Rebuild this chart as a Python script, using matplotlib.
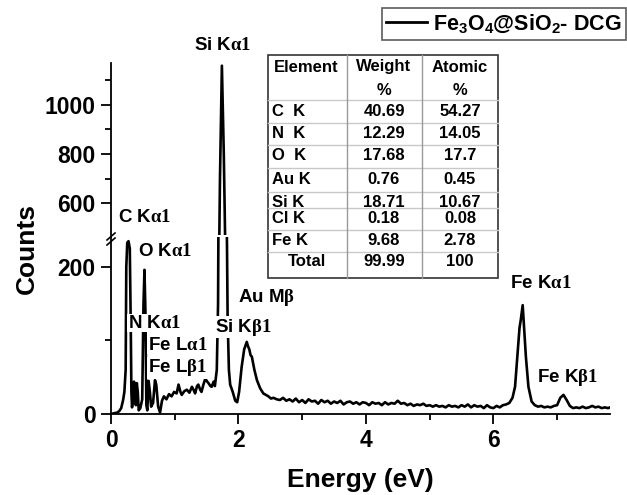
import matplotlib
matplotlib.use("Agg")
import matplotlib.pyplot as plt
from matplotlib.ticker import MultipleLocator, FixedLocator
from matplotlib.lines import Line2D

plt.rcParams['font.family'] = ['Liberation Sans', 'DejaVu Sans']
plt.rcParams['font.weight'] = 'bold'
plt.rcParams['mathtext.fontset'] = 'custom'
plt.rcParams['mathtext.rm'] = 'Liberation Serif'
plt.rcParams['mathtext.it'] = 'Liberation Serif:italic'
plt.rcParams['mathtext.bf'] = 'Liberation Sans:bold'

# ---------------- data ----------------
energy = [0.00, 0.05, 0.10, 0.13, 0.16, 0.19, 0.21, 0.23, 0.24, 0.255, 0.275, 0.295, 0.31, 0.32,
          0.33, 0.345, 0.36, 0.375, 0.39, 0.405, 0.42, 0.435, 0.46, 0.49, 0.51, 0.525, 0.54, 0.555,
          0.57, 0.59, 0.61, 0.63, 0.66, 0.69, 0.71, 0.74, 0.77, 0.80, 0.83, 0.87, 0.91, 0.95, 0.99,
          1.03, 1.06, 1.09, 1.11, 1.15, 1.19, 1.23, 1.27, 1.30, 1.32, 1.35, 1.37, 1.40, 1.42, 1.45,
          1.48, 1.51, 1.53, 1.56, 1.58, 1.61, 1.63, 1.66, 1.68, 1.69, 1.70, 1.71, 1.74, 1.77, 1.79,
          1.80, 1.82, 1.83, 1.85, 1.87, 1.91, 1.95, 1.98, 2.01, 2.05, 2.09, 2.13, 2.15, 2.17, 2.19,
          2.21, 2.25, 2.29, 2.34, 2.39, 2.43, 2.47, 2.51, 2.55, 2.60, 2.65, 2.70, 2.75, 2.80, 2.85,
          2.90, 2.95, 3.00, 3.05, 3.10, 3.15, 3.20, 3.25, 3.30, 3.35, 3.40, 3.45, 3.50, 3.55, 3.60,
          3.65, 3.70, 3.75, 3.80, 3.85, 3.90, 3.95, 4.00, 4.05, 4.10, 4.15, 4.20, 4.25, 4.30, 4.35,
          4.40, 4.45, 4.50, 4.55, 4.60, 4.65, 4.70, 4.75, 4.80, 4.85, 4.90, 4.95, 5.00, 5.05, 5.10,
          5.15, 5.20, 5.25, 5.30, 5.35, 5.40, 5.45, 5.50, 5.55, 5.60, 5.65, 5.70, 5.75, 5.80, 5.85,
          5.90, 5.95, 6.00, 6.05, 6.10, 6.15, 6.20, 6.25, 6.30, 6.34, 6.38, 6.41, 6.43, 6.46, 6.48,
          6.51, 6.55, 6.60, 6.65, 6.70, 6.75, 6.80, 6.85, 6.90, 6.95, 7.00, 7.05, 7.10, 7.15, 7.20,
          7.25, 7.30, 7.35, 7.40, 7.45, 7.50, 7.55, 7.60, 7.65, 7.70, 7.75, 7.80, 7.83]
counts = [0, 1, 2, 4, 8, 19, 30, 60, 200, 233, 235, 225, 120, 30,
          9, 20, 44, 38, 12, 42, 30, 5, 8, 20, 150, 196, 140, 12,
          5, 45, 30, 10, 15, 46, 40, 10, 2, 18, 24, 20, 27, 24, 30,
          28, 40, 30, 26, 31, 33, 29, 37, 32, 28, 38, 40, 33, 30, 40,
          48, 44, 42, 38, 37, 44, 38, 60, 150, 330, 470, 700, 1160, 800, 470,
          350, 230, 130, 60, 40, 30, 18, 16, 30, 64, 88, 98, 92, 88, 80,
          78, 60, 46, 35, 28, 26, 24, 21, 22, 20, 19, 22, 18, 20, 17,
          21, 16, 19, 15, 20, 17, 18, 14, 19, 16, 18, 14, 17, 15, 18,
          13, 16, 17, 14, 16, 13, 16, 15, 12, 16, 14, 15, 12, 16, 13,
          15, 14, 18, 14, 15, 12, 14, 11, 13, 12, 14, 11, 12, 10, 12,
          10, 11, 9, 12, 10, 11, 9, 12, 10, 13, 9, 12, 10, 11, 8,
          12, 9, 8, 11, 9, 12, 13, 15, 22, 37, 83, 117, 128, 148, 119,
          78, 37, 17, 12, 10, 11, 9, 10, 9, 11, 12, 22, 26, 19, 11,
          8, 9, 8, 10, 8, 9, 11, 9, 10, 8, 9, 8, 9]

series_label = r"Fe$_\mathbf{3}$O$_\mathbf{4}$@SiO$_\mathbf{2}$- DCG"

peak_labels = [r"C K$\mathrm{\alpha 1}$", r"O K$\mathrm{\alpha 1}$", r"N K$\mathrm{\alpha 1}$",
               r"Fe L$\mathrm{\alpha 1}$", r"Fe L$\mathrm{\beta 1}$", r"Si K$\mathrm{\alpha 1}$",
               r"Si K$\mathrm{\beta 1}$", r"Au M$\mathrm{\beta}$", r"Fe K$\mathrm{\alpha 1}$",
               r"Fe K$\mathrm{\beta 1}$"]
# label anchor positions (figure pixels: left x, centre y from top)
peak_label_pos = [(118, 218), (138, 252), (128, 323), (148, 345), (148, 368), (194, 45),
                  (215, 327), (238, 298), (510, 283), (537, 377)]

tbl_header1 = ["Element", "Weight", "Atomic"]
tbl_header2 = ["", "%", "%"]
tbl_elements = ["C  K", "N  K", "O  K", "Au K", "Si K", "Cl K", "Fe K", "Total"]
tbl_weight = ["40.69", "12.29", "17.68", "0.76", "18.71", "0.18", "9.68", "99.99"]
tbl_atomic = ["54.27", "14.05", "17.7", "0.45", "10.67", "0.08", "2.78", "100"]

# ---------------- figure ----------------
W, H = 627, 495
fig = plt.figure(figsize=(W / 100, H / 100), dpi=100)

def fx(px):
    return px / W

def fy(py):
    return 1 - py / H

x_left, x_right = 111, 610
ax_lo = fig.add_axes([fx(x_left), fy(414), fx(x_right - x_left), (414 - 237.5) / H])
ax_hi = fig.add_axes([fx(x_left), fy(235), fx(x_right - x_left), (235 - 63) / H])

lw = 1.9
for ax in (ax_lo, ax_hi):
    ax.plot(energy, counts, color='black', lw=lw)
    ax.set_xlim(0, 7.83)
    ax.spines['top'].set_visible(False)
    ax.spines['right'].set_visible(False)
    ax.spines['left'].set_linewidth(1.3)
    ax.spines['bottom'].set_linewidth(1.3)
    ax.tick_params(which='major', direction='out', length=7, width=1.3, labelsize=16.5, pad=4)
    ax.tick_params(which='minor', direction='out', length=4.5, width=1.3)

ax_lo.set_ylim(0, 240)
ax_lo.yaxis.set_major_locator(FixedLocator([0, 200]))
ax_lo.yaxis.set_minor_locator(FixedLocator([100]))
ax_lo.xaxis.set_major_locator(MultipleLocator(2))
ax_lo.xaxis.set_minor_locator(MultipleLocator(1))
ax_lo.set_xlabel("Energy (eV)", fontsize=19, fontweight='bold', labelpad=11)

ax_hi.set_ylim(470, 1171)
ax_hi.yaxis.set_major_locator(FixedLocator([600, 800, 1000]))
ax_hi.yaxis.set_minor_locator(FixedLocator([700, 900, 1100]))
ax_hi.spines['bottom'].set_visible(False)
ax_hi.tick_params(axis='x', which='both', bottom=False, labelbottom=False)
ax_hi.patch.set_alpha(0)

for ax in (ax_lo, ax_hi):
    for t in ax.get_yticklabels() + ax.get_xticklabels():
        t.set_fontweight('bold')

fig.text(fx(27), fy(248), "Counts", rotation=90, fontsize=19, fontweight='bold',
         ha='center', va='center')

# break marks
for dy in (0, 5):
    fig.add_artist(Line2D([fx(107), fx(115)], [fy(240 + dy), fy(233 + dy)],
                          color='black', lw=1.2))

# peak labels
for lab, (px, py) in zip(peak_labels, peak_label_pos):
    fig.text(fx(px), fy(py), lab, fontsize=13.5, fontweight='bold', ha='left', va='center',
             bbox=dict(facecolor='white', edgecolor='none', pad=0.6), zorder=5)

# table
tx0, tx1, tx2, tx3 = 267.7, 346.7, 421.7, 498
ty_top, ty_bot = 55, 278
seps = [100, 122.7, 145, 168, 191.7, 208, 230, 251.7]
row_y = [111.7, 133, 156, 180, 202.5, 218.5, 240.7, 262]
fig.patches.append(plt.Rectangle((fx(tx0), fy(ty_bot)), fx(tx3 - tx0), (ty_bot - ty_top) / H,
                                 transform=fig.transFigure, facecolor='white',
                                 edgecolor='#333333', lw=1.2, zorder=4))
for yy in seps:
    fig.add_artist(Line2D([fx(tx0), fx(tx3)], [fy(yy), fy(yy)], color='#c8c8c8', lw=1.0, zorder=4.5))
for xx in (tx1, tx2):
    fig.add_artist(Line2D([fx(xx), fx(xx)], [fy(ty_top), fy(ty_bot)], color='#999999', lw=1.0, zorder=4.5))

tfs = 12
fig.text(fx(306), fy(67), tbl_header1[0], fontsize=tfs, ha='center', va='center', zorder=6)
fig.text(fx(384), fy(67), tbl_header1[1], fontsize=tfs, ha='center', va='center', zorder=6)
fig.text(fx(460), fy(67), tbl_header1[2], fontsize=tfs, ha='center', va='center', zorder=6)
fig.text(fx(384), fy(90), tbl_header2[1], fontsize=tfs, ha='center', va='center', zorder=6)
fig.text(fx(460), fy(90), tbl_header2[2], fontsize=tfs, ha='center', va='center', zorder=6)
for i, (el, wv, av) in enumerate(zip(tbl_elements, tbl_weight, tbl_atomic)):
    yy = row_y[i]
    if el == "Total":
        fig.text(fx(307), fy(yy), el, fontsize=tfs, ha='center', va='center', zorder=6)
    else:
        fig.text(fx(272), fy(yy), el, fontsize=tfs, ha='left', va='center', zorder=6)
    fig.text(fx(384), fy(yy), wv, fontsize=tfs, ha='center', va='center', zorder=6)
    fig.text(fx(460), fy(yy), av, fontsize=tfs, ha='center', va='center', zorder=6)

# legend
handle = Line2D([], [], color='black', lw=2.0)
leg = fig.legend([handle], [series_label], loc='upper right',
                 bbox_to_anchor=(fx(626), fy(8)), borderaxespad=0,
                 prop={'size': 15.5, 'weight': 'bold'}, frameon=True, fancybox=False,
                 handlelength=1.9, handletextpad=0.25, borderpad=0.22)
leg.get_frame().set_edgecolor('#333333')
leg.get_frame().set_linewidth(1.2)

fig.savefig("out.png", dpi=100)
